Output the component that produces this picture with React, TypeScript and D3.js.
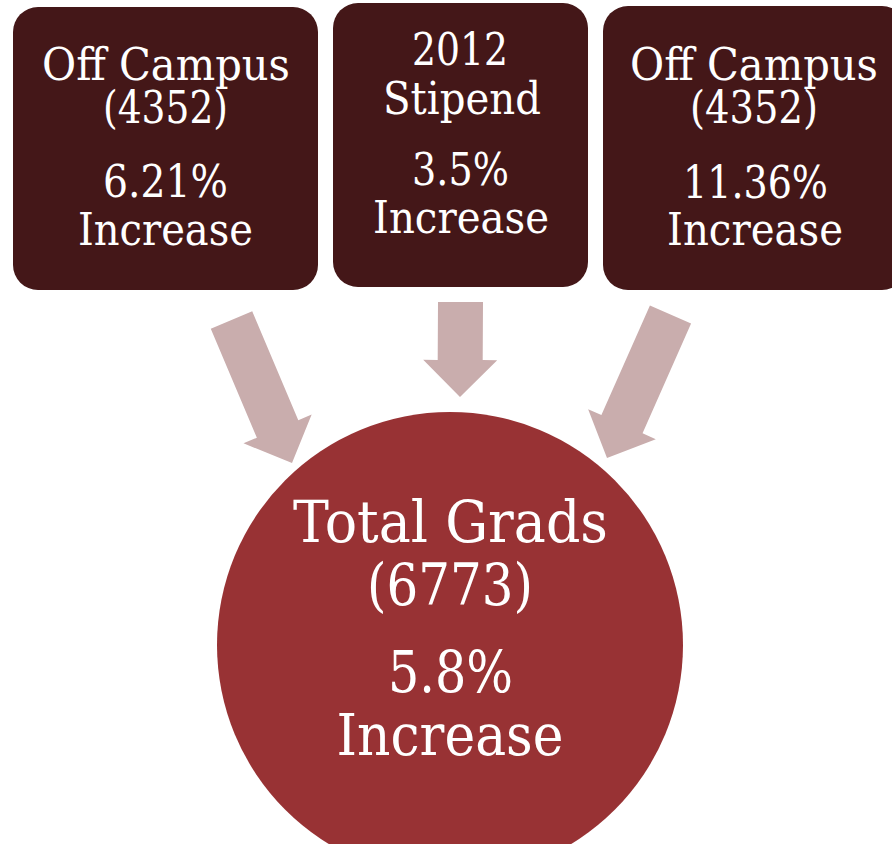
import React from "react";
import * as d3 from "d3";

// ---- data ----
const sourceTitles: string[][] = [
  ["Off Campus", "(4352)"],
  ["2012", "Stipend"],
  ["Off Campus", "(4352)"],
];
const sourceIncreases: string[] = ["6.21%", "3.5%", "11.36%"];
const totalTitle: string[] = ["Total Grads", "(6773)"];
const totalIncrease: string = "5.8%";
const increaseWord = "Increase";

// ---- layout (positions / sizes / styles) ----
const W = 892;
const H = 844;
const boxes = [
  { x: 13, y: 7, w: 305, h: 283 },
  { x: 333, y: 3, w: 255, h: 284 },
  { x: 603, y: 6, w: 304, h: 284 },
];
const boxLines = [
  [
    { cx: 166, y: 80, w: 248 },
    { cx: 165.5, y: 123, w: 125 },
    { cx: 165.5, y: 197, w: 125 },
    { cx: 165.5, y: 245, w: 175 },
  ],
  [
    { cx: 460, y: 65, w: 96 },
    { cx: 462, y: 114, w: 158 },
    { cx: 460.5, y: 185, w: 97 },
    { cx: 461, y: 233, w: 176 },
  ],
  [
    { cx: 754, y: 80, w: 248 },
    { cx: 754, y: 123, w: 128 },
    { cx: 755.5, y: 198, w: 145 },
    { cx: 755, y: 245, w: 176 },
  ],
];
const circle = { cx: 450, cy: 645, r: 233 };
const circleLines = [
  { cx: 450.5, y: 542, w: 315 },
  { cx: 450, y: 605, w: 166 },
  { cx: 450.5, y: 692, w: 125 },
  { cx: 450, y: 755, w: 227 },
];
const arrows = [
  { x0: 231.5, y0: 320, x1: 292, y1: 463 },
  { x0: 460.5, y0: 302, x1: 460, y1: 397 },
  { x0: 670.5, y0: 314.5, x1: 607, y1: 458 },
];
const BOX_FILL = "#441718";
const CIRCLE_FILL = "#983234";
const ARROW_FILL = "#c9adad";
const FONT = "'DejaVu Serif', 'Liberation Serif', serif";

function arrowPath(a: { x0: number; y0: number; x1: number; y1: number }) {
  const shaftW = 45;
  const headW = 74;
  const headL = 37;
  const dx = a.x1 - a.x0;
  const dy = a.y1 - a.y0;
  const len = Math.hypot(dx, dy);
  const ux = dx / len;
  const uy = dy / len;
  const px = -uy;
  const py = ux;
  const pt = (along: number, side: number): [number, number] => [
    a.x0 + ux * along + px * side,
    a.y0 + uy * along + py * side,
  ];
  const pts: [number, number][] = [
    pt(0, -shaftW / 2),
    pt(len - headL, -shaftW / 2),
    pt(len - headL, -headW / 2),
    pt(len, 0),
    pt(len - headL, headW / 2),
    pt(len - headL, shaftW / 2),
    pt(0, shaftW / 2),
  ];
  return (d3.line().curve(d3.curveLinearClosed)(pts) as string) || "";
}

function Line({ cx, y, w, text, size }: { cx: number; y: number; w: number; text: string; size: number }) {
  return (
    <text
      x={cx - w / 2}
      y={y}
      textLength={w}
      lengthAdjust="spacingAndGlyphs"
      fontFamily={FONT}
      fontSize={size}
      fill="#ffffff"
    >
      {text}
    </text>
  );
}

export default function App() {
  return (
    <svg
      width={W}
      height={H}
      viewBox={`0 0 ${W} ${H}`}
      style={{ position: "absolute", left: 0, top: 0, background: "#ffffff" }}
    >
      {boxes.map((b, i) => {
        const texts = [...sourceTitles[i], sourceIncreases[i], increaseWord];
        return (
          <g key={i}>
            <rect x={b.x} y={b.y} width={b.w} height={b.h} rx={25} ry={25} fill={BOX_FILL} />
            {boxLines[i].map((l, j) => (
              <Line key={j} cx={l.cx} y={l.y} w={l.w} text={texts[j]} size={44} />
            ))}
          </g>
        );
      })}
      {arrows.map((a, i) => (
        <path key={i} d={arrowPath(a)} fill={ARROW_FILL} />
      ))}
      <circle cx={circle.cx} cy={circle.cy} r={circle.r} fill={CIRCLE_FILL} />
      {[...totalTitle, totalIncrease, increaseWord].map((t, j) => (
        <Line key={j} cx={circleLines[j].cx} y={circleLines[j].y} w={circleLines[j].w} text={t} size={58} />
      ))}
    </svg>
  );
}
